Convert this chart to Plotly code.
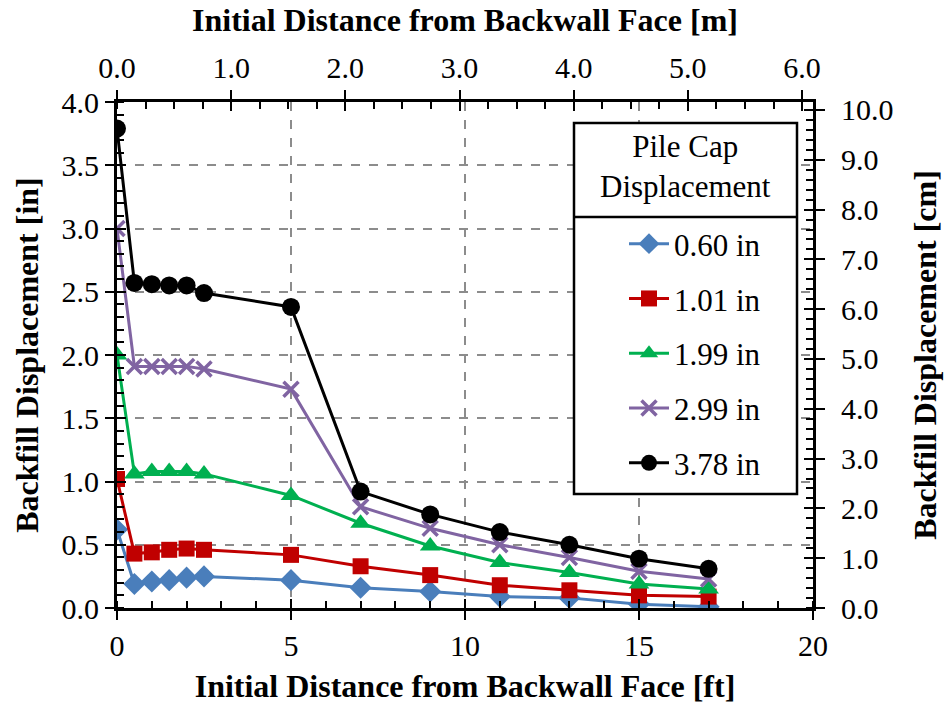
import plotly.graph_objects as go

dist_ft = [0, 0.5, 1, 1.5, 2, 2.5, 5, 7, 9, 11, 13, 15, 17]
labels = ["0.60 in", "1.01 in", "1.99 in", "2.99 in", "3.78 in"]
d060 = [0.62, 0.19, 0.21, 0.22, 0.24, 0.25, 0.22, 0.16, 0.13, 0.09, 0.08, 0.03, 0.01]
d101 = [1.02, 0.43, 0.44, 0.46, 0.47, 0.46, 0.42, 0.33, 0.26, 0.18, 0.14, 0.10, 0.09]
d199 = [2.00, 1.06, 1.08, 1.08, 1.08, 1.06, 0.89, 0.67, 0.49, 0.36, 0.28, 0.19, 0.15]
d299 = [3.00, 1.91, 1.91, 1.91, 1.91, 1.89, 1.73, 0.80, 0.63, 0.50, 0.40, 0.29, 0.23]
d378 = [3.79, 2.57, 2.56, 2.55, 2.55, 2.49, 2.38, 0.92, 0.74, 0.60, 0.50, 0.39, 0.31]
series = [d060, d101, d199, d299, d378]
colors = ["#4A7EBB", "#C00000", "#00B050", "#8064A2", "#000000"]
symbols = ["diamond", "square", "triangle-up", "x-thin", "circle"]
msizes = [17, 16, 18, 15, 18]

FT_PER_M = 3.28084
X_MAX_FT = 20
Y_MAX_IN = 4
FONT = "Liberation Serif"

# plot-area geometry in pixels (for paper conversions)
L, R, T, B = 117, 813, 102, 608
def px(x):
    return (x - L) / (R - L)
def py(y):
    return (B - y) / (B - T)

fig = go.Figure()
for i, (lab, ys) in enumerate(zip(labels, series)):
    mk = dict(symbol=symbols[i], size=msizes[i], color=colors[i])
    if symbols[i] == "x-thin":
        mk["line"] = dict(color=colors[i], width=3.5)
    fig.add_trace(go.Scatter(
        x=dist_ft, y=ys, mode="lines+markers", name=lab,
        line=dict(color=colors[i], width=3), marker=mk,
        legendgroup=lab,
    ))

for xa, ya in [("x2", "y2"), ("x3", "y3"), ("x4", "y4")]:
    fig.add_trace(go.Scatter(x=[None], y=[None], xaxis=xa, yaxis=ya,
                             showlegend=False, hoverinfo="skip"))

tickfont = dict(family=FONT, size=30, color="black")
titlefont = dict(family=FONT, size=32, color="black")
grid = dict(showgrid=True, gridcolor="#8C8C8C", griddash="dash", gridwidth=1.5)
common = dict(showline=True, linecolor="black", linewidth=3, zeroline=False,
              tickfont=tickfont, tickcolor="black", ticklen=9, tickwidth=2,
              automargin=False)
minor_style = dict(ticks="inside", ticklen=7, tickcolor="black", tickwidth=2)
inner = dict(ticks="inside", ticklen=9, tickwidth=2, tickcolor="black",
             showticklabels=False, showgrid=False, showline=False, zeroline=False)

fig.update_layout(
    width=944, height=711,
    margin=dict(l=L, r=944 - R, t=T, b=711 - B, autoexpand=False),
    plot_bgcolor="white", paper_bgcolor="white",
    font=dict(family=FONT, color="black"),
    xaxis=dict(range=[0, X_MAX_FT], dtick=5, ticks="outside",
               minor=dict(dtick=1, **minor_style),
               title=dict(text="<b>Initial Distance from Backwall Face [ft]</b>", font=titlefont, standoff=14),
               **grid, **common),
    yaxis=dict(range=[0, Y_MAX_IN], dtick=0.5, tickformat=".1f", ticks="outside",
               minor=dict(dtick=0.1, **minor_style),
               title=dict(text="<b>Backfill Displacement [in]</b>", font=titlefont, standoff=14),
               **grid, **common),
    xaxis2=dict(range=[0, X_MAX_FT / FT_PER_M], dtick=1, tickformat=".1f", side="top",
                overlaying="x", anchor="y", ticks="outside", showgrid=False,
                minor=dict(dtick=0.25, **minor_style),
                title=dict(text="<b>Initial Distance from Backwall Face [m]</b>", font=titlefont, standoff=10),
                **common),
    yaxis2=dict(range=[0, Y_MAX_IN * 2.54], dtick=1, tickformat=".1f", side="right",
                overlaying="y", anchor="x", ticks="outside", showgrid=False,
                minor=dict(dtick=0.2, **minor_style), ticklabelstandoff=10,
                title=dict(text="<b>Backfill Displacement [cm]</b>", font=titlefont, standoff=22),
                **common),
    xaxis3=dict(range=[0, X_MAX_FT], dtick=5, overlaying="x", anchor="y", side="bottom", **inner),
    yaxis3=dict(range=[0, Y_MAX_IN], dtick=0.5, overlaying="y", anchor="x", side="left", **inner),
    xaxis4=dict(range=[0, X_MAX_FT / FT_PER_M], dtick=1, overlaying="x", anchor="y", side="top", **inner),
    yaxis4=dict(range=[0, Y_MAX_IN * 2.54], dtick=1, overlaying="y", anchor="x", side="right", **inner),
    legend=dict(x=px(624), y=py(217), xanchor="left", yanchor="top",
                bgcolor="rgba(0,0,0,0)", borderwidth=0,
                font=dict(family=FONT, size=31, color="black"),
                tracegroupgap=11.5, itemwidth=40),
    showlegend=True,
)

# legend frame, title separator and title
fig.add_shape(type="rect", xref="paper", yref="paper",
              x0=px(574), x1=px(797), y0=py(494), y1=py(123),
              line=dict(color="black", width=2.5), fillcolor="white", layer="above")
fig.add_shape(type="line", xref="paper", yref="paper",
              x0=px(574), x1=px(797), y0=py(217), y1=py(217),
              line=dict(color="black", width=2.5))
fig.add_annotation(xref="paper", yref="paper", x=px(685.5), y=py(166),
                   xanchor="center", yanchor="middle",
                   text="Pile Cap<br>Displacement", showarrow=False, align="center",
                   font=dict(family=FONT, size=31, color="black"))

fig.write_html("out.html")
